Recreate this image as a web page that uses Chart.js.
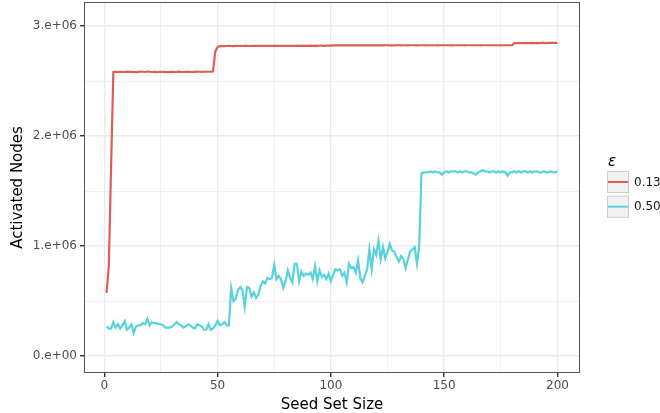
<!DOCTYPE html>
<html>
<head>
<meta charset="utf-8">
<script src="https://cdn.jsdelivr.net/npm/chart.js@4/dist/chart.umd.min.js"></script>
<style>
  body { margin: 0; background: #fff; }
  #wrap { width: 660px; height: 413px; }
</style>
</head>
<body>
<div id="wrap"><canvas id="seedChart" width="660" height="413"></canvas></div>
<script>
// Activated nodes per seed set size, one array per epsilon value
const eps013 = [
    0.575e6, 0.82e6, 1.72e6, 2.582e6, 2.584e6, 2.583e6, 2.585e6, 2.584e6, 2.583e6, 2.586e6,
    2.584e6, 2.585e6, 2.583e6, 2.582e6, 2.584e6, 2.586e6, 2.585e6, 2.583e6, 2.587e6, 2.585e6,
    2.583e6, 2.584e6, 2.582e6, 2.583e6, 2.585e6, 2.584e6, 2.583e6, 2.582e6, 2.584e6, 2.585e6,
    2.583e6, 2.584e6, 2.586e6, 2.584e6, 2.583e6, 2.585e6, 2.584e6, 2.583e6, 2.585e6, 2.584e6,
    2.586e6, 2.585e6, 2.584e6, 2.585e6, 2.586e6, 2.585e6, 2.586e6, 2.588e6, 2.77e6, 2.81e6,
    2.818e6, 2.819e6, 2.818e6, 2.819e6, 2.82e6, 2.819e6, 2.818e6, 2.82e6, 2.819e6, 2.82e6,
    2.819e6, 2.82e6, 2.82e6, 2.819e6, 2.82e6, 2.821e6, 2.82e6, 2.82e6, 2.821e6, 2.82e6,
    2.82e6, 2.821e6, 2.82e6, 2.821e6, 2.821e6, 2.82e6, 2.821e6, 2.821e6, 2.82e6, 2.821e6,
    2.821e6, 2.82e6, 2.821e6, 2.821e6, 2.822e6, 2.821e6, 2.821e6, 2.822e6, 2.821e6, 2.821e6,
    2.822e6, 2.821e6, 2.822e6, 2.821e6, 2.822e6, 2.822e6, 2.821e6, 2.822e6, 2.822e6, 2.822e6,
    2.824e6, 2.825e6, 2.824e6, 2.825e6, 2.825e6, 2.824e6, 2.825e6, 2.825e6, 2.824e6, 2.825e6,
    2.825e6, 2.825e6, 2.826e6, 2.825e6, 2.825e6, 2.826e6, 2.825e6, 2.825e6, 2.826e6, 2.825e6,
    2.826e6, 2.825e6, 2.825e6, 2.826e6, 2.826e6, 2.825e6, 2.826e6, 2.825e6, 2.826e6, 2.826e6,
    2.825e6, 2.826e6, 2.826e6, 2.825e6, 2.826e6, 2.826e6, 2.826e6, 2.825e6, 2.826e6, 2.826e6,
    2.826e6, 2.825e6, 2.826e6, 2.826e6, 2.826e6, 2.826e6, 2.825e6, 2.826e6, 2.826e6, 2.826e6,
    2.826e6, 2.826e6, 2.825e6, 2.826e6, 2.826e6, 2.826e6, 2.826e6, 2.826e6, 2.825e6, 2.826e6,
    2.826e6, 2.826e6, 2.826e6, 2.826e6, 2.826e6, 2.825e6, 2.826e6, 2.826e6, 2.826e6, 2.826e6,
    2.826e6, 2.826e6, 2.826e6, 2.826e6, 2.825e6, 2.826e6, 2.826e6, 2.826e6, 2.826e6, 2.826e6,
    2.845e6, 2.846e6, 2.846e6, 2.845e6, 2.846e6, 2.847e6, 2.846e6, 2.846e6, 2.847e6, 2.846e6,
    2.847e6, 2.846e6, 2.847e6, 2.847e6, 2.846e6, 2.847e6, 2.847e6, 2.848e6, 2.847e6, 2.847e6
];
const eps050 = [
    0.27e6, 0.25e6, 0.25e6, 0.31e6, 0.26e6, 0.29e6, 0.25e6, 0.28e6, 0.32e6, 0.24e6,
    0.26e6, 0.29e6, 0.21e6, 0.27e6, 0.28e6, 0.28e6, 0.30e6, 0.29e6, 0.34e6, 0.28e6,
    0.31e6, 0.30e6, 0.30e6, 0.29e6, 0.29e6, 0.28e6, 0.26e6, 0.26e6, 0.26e6, 0.27e6,
    0.29e6, 0.31e6, 0.29e6, 0.28e6, 0.26e6, 0.27e6, 0.29e6, 0.28e6, 0.26e6, 0.25e6,
    0.29e6, 0.28e6, 0.27e6, 0.24e6, 0.24e6, 0.29e6, 0.24e6, 0.25e6, 0.28e6, 0.32e6,
    0.28e6, 0.29e6, 0.31e6, 0.28e6, 0.28e6, 0.62e6, 0.50e6, 0.52e6, 0.60e6, 0.63e6,
    0.60e6, 0.45e6, 0.63e6, 0.62e6, 0.54e6, 0.58e6, 0.53e6, 0.56e6, 0.64e6, 0.68e6,
    0.66e6, 0.71e6, 0.70e6, 0.71e6, 0.83e6, 0.70e6, 0.73e6, 0.70e6, 0.62e6, 0.68e6,
    0.78e6, 0.71e6, 0.67e6, 0.84e6, 0.84e6, 0.68e6, 0.77e6, 0.73e6, 0.75e6, 0.74e6,
    0.76e6, 0.70e6, 0.82e6, 0.68e6, 0.78e6, 0.72e6, 0.74e6, 0.70e6, 0.75e6, 0.68e6,
    0.74e6, 0.79e6, 0.78e6, 0.79e6, 0.73e6, 0.76e6, 0.67e6, 0.84e6, 0.80e6, 0.81e6,
    0.76e6, 0.87e6, 0.71e6, 0.67e6, 0.73e6, 0.79e6, 0.97e6, 0.79e6, 0.97e6, 0.92e6,
    1.05e6, 0.88e6, 0.99e6, 0.89e6, 0.95e6, 1.02e6, 0.96e6, 0.95e6, 0.90e6, 0.86e6,
    0.91e6, 0.88e6, 0.80e6, 0.88e6, 0.95e6, 0.97e6, 0.99e6, 0.84e6, 1.01e6, 1.66e6,
    1.67e6, 1.67e6, 1.67e6, 1.68e6, 1.67e6, 1.68e6, 1.67e6, 1.67e6, 1.65e6, 1.67e6,
    1.68e6, 1.67e6, 1.68e6, 1.68e6, 1.68e6, 1.67e6, 1.68e6, 1.67e6, 1.68e6, 1.68e6,
    1.67e6, 1.67e6, 1.66e6, 1.65e6, 1.67e6, 1.68e6, 1.69e6, 1.68e6, 1.68e6, 1.67e6,
    1.68e6, 1.68e6, 1.67e6, 1.68e6, 1.67e6, 1.68e6, 1.67e6, 1.64e6, 1.67e6, 1.67e6,
    1.68e6, 1.67e6, 1.68e6, 1.67e6, 1.68e6, 1.68e6, 1.67e6, 1.68e6, 1.67e6, 1.68e6,
    1.68e6, 1.67e6, 1.67e6, 1.68e6, 1.67e6, 1.67e6, 1.68e6, 1.67e6, 1.67e6, 1.68e6
];
const seedSizes = eps013.map((_, i) => i + 1);
const seriesLabels = ["0.13", "0.50"];
const seriesColors = ["#db5f57", "#57d3db"];

const xTicks = [0, 25, 50, 75, 100, 125, 150, 175, 200];
const xTickLabels = { 0: "0", 50: "50", 100: "100", 150: "150", 200: "200" };
const yTicks = [0, 0.5e6, 1e6, 1.5e6, 2e6, 2.5e6, 3e6];
const yTickLabels = { 0: "0.e+00", 1000000: "1.e+06", 2000000: "2.e+06", 3000000: "3.e+06" };

const FONT = "'DejaVu Sans', sans-serif";
const GRID = "#ebebeb";

function isMajor(scale, v) {
    const labels = scale.axis === "x" ? xTickLabels : yTickLabels;
    return labels[v] !== undefined;
}

// panel border like theme_bw
const panelBorder = {
    id: "panelBorder",
    afterDraw(chart) {
        const { ctx, chartArea: a } = chart;
        ctx.save();
        ctx.strokeStyle = "#555555";
        ctx.lineWidth = 1;
        ctx.strokeRect(Math.round(a.left) + 0.5, Math.round(a.top) + 0.5,
            Math.round(a.width) - 1, Math.round(a.height) - 1);
        ctx.restore();
    }
};

// ggplot-like legend on the right
const sideLegend = {
    id: "sideLegend",
    afterDraw(chart) {
        const ctx = chart.ctx;
        const x0 = 607, y0 = 171, key = 22, gap = 2.7;
        ctx.save();
        ctx.fillStyle = "#000";
        ctx.font = "italic 15px " + FONT;
        ctx.textBaseline = "alphabetic";
        ctx.textAlign = "left";
        ctx.fillText("ε", x0 + 1, 166);
        chart.data.datasets.forEach((ds, i) => {
            const y = y0 + i * (key + gap);
            ctx.fillStyle = "#f2f2f2";
            ctx.fillRect(x0, y, key, key);
            ctx.strokeStyle = "#cccccc";
            ctx.lineWidth = 1;
            ctx.strokeRect(x0 + 0.5, y + 0.5, key - 1, key - 1);
            ctx.strokeStyle = ds.borderColor;
            ctx.lineWidth = 2;
            ctx.beginPath();
            ctx.moveTo(x0 + 1, y + key / 2);
            ctx.lineTo(x0 + key - 1, y + key / 2);
            ctx.stroke();
            ctx.fillStyle = "#1a1a1a";
            ctx.font = "12px " + FONT;
            ctx.textBaseline = "middle";
            ctx.fillText(ds.label, x0 + key + 5, y + key / 2 + 0.5);
        });
        ctx.restore();
    }
};

new Chart(document.getElementById("seedChart").getContext("2d"), {
    type: "line",
    data: {
        labels: seedSizes,
        datasets: [
            {
                label: seriesLabels[0],
                data: eps013,
                borderColor: seriesColors[0],
                borderWidth: 2.2,
                pointRadius: 0,
                tension: 0,
                fill: false,
            },
            {
                label: seriesLabels[1],
                data: eps050,
                borderColor: seriesColors[1],
                borderWidth: 2.2,
                pointRadius: 0,
                tension: 0,
                fill: false,
            },
        ],
    },
    options: {
        responsive: false,
        animation: false,
        events: [],
        layout: { padding: { top: 2, right: 80, left: 0, bottom: -2 } },
        plugins: {
            legend: { display: false },
            tooltip: { enabled: false },
        },
        scales: {
            x: {
                type: "linear",
                min: -8.95,
                max: 209.95,
                afterBuildTicks: (s) => { s.ticks = xTicks.map(v => ({ value: v })); },
                afterFit: (s) => { s.height = 42; s.paddingLeft = 0; s.paddingRight = 0; },
                border: { display: false },
                grid: {
                    color: GRID,
                    lineWidth: (c) => isMajor(c.scale, c.tick.value) ? 1.4 : 0.7,
                    tickColor: (c) => isMajor(c.scale, c.tick.value) ? "#333333" : "rgba(0,0,0,0)",
                    tickLength: 4,
                },
                ticks: {
                    autoSkip: false,
                    maxRotation: 0,
                    padding: 2,
                    color: "#4d4d4d",
                    font: { family: FONT, size: 12 },
                    callback: (v) => xTickLabels[v] ?? "",
                },
                title: {
                    display: true,
                    text: "Seed Set Size",
                    color: "#000",
                    font: { family: FONT, size: 15 },
                    padding: { top: 0, bottom: 1 },
                },
            },
            y: {
                min: -153000,
                max: 3219000,
                afterBuildTicks: (s) => { s.ticks = yTicks.map(v => ({ value: v })); },
                afterFit: (s) => { s.width = 84; s.paddingTop = 0; s.paddingBottom = 0; },
                border: { display: false },
                grid: {
                    color: GRID,
                    lineWidth: (c) => isMajor(c.scale, c.tick.value) ? 1.4 : 0.7,
                    tickColor: (c) => isMajor(c.scale, c.tick.value) ? "#333333" : "rgba(0,0,0,0)",
                    tickLength: 4,
                },
                ticks: {
                    autoSkip: false,
                    padding: 3,
                    color: "#4d4d4d",
                    font: { family: FONT, size: 12 },
                    callback: (v) => yTickLabels[v] ?? "",
                },
                title: {
                    display: true,
                    text: "Activated Nodes",
                    color: "#000",
                    font: { family: FONT, size: 15 },
                    padding: { top: 9, bottom: 0 },
                },
            },
        },
    },
    plugins: [panelBorder, sideLegend],
});
</script>
</body>
</html>
